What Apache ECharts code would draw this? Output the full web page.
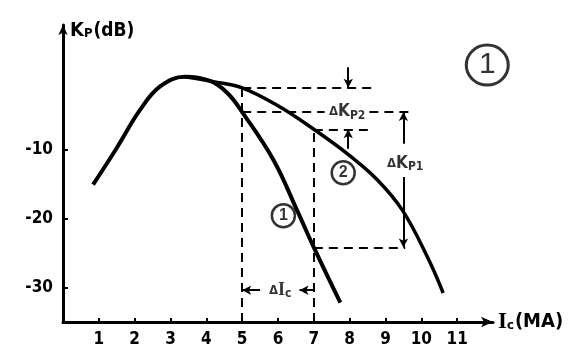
<!DOCTYPE html>
<html><head><meta charset="utf-8">
<script src="https://cdn.jsdelivr.net/npm/echarts@6/dist/echarts.min.js"></script>
<style>html,body{margin:0;padding:0;background:#fff}#c{width:587px;height:362px}</style>
</head><body><div id="c"></div>
<script>
// ---- data ----
const xTickValues = [1, 2, 3, 4, 5, 6, 7, 8, 9, 10, 11];
const yTickValues = [-10, -20, -30];

const curve1X = [0.84, 1.5, 2.15, 2.71, 3.4, 4.1, 4.58, 5, 5.87, 6.53, 7, 7.74];
const curve1Y = [-15.1, -9.8, -4.3, -0.9, 0.5, -0.1, -1.8, -4.6, -11.5, -18.8, -24.2, -32.2];

const curve2X = [3.4, 4.2, 5, 6, 7, 8, 8.77, 9.47, 10.17, 10.61];
const curve2Y = [0.5, -0.2, -1.1, -3.7, -7.1, -10.9, -14.4, -18.8, -25.6, -30.8];

const icLow = 5, icHigh = 7;
const circleTexts = ['1', '2', '1'];
const circleX = [6.15, 7.82, 11.84];
const circleY = [-19.6, -13.4, 2.2];

const noteTexts = ['{d|Δ}{k|K}{s|P2}', '{d|Δ}{k|K}{s|P1}', '{d|Δ}{i|I}{s|c}'];
const noteX = [7.93, 9.55, 6.06];
const noteY = [-4.6, -12.0, -30.4];

// annotation anchor values derived from the curves
const kp1Low = curve1Y[curve1X.indexOf(icLow)];
const kp1High = curve1Y[curve1X.indexOf(icHigh)];
const kp2Low = curve2Y[curve2X.indexOf(icLow)];
const kp2High = curve2Y[curve2X.indexOf(icHigh)];
const yMin = -35, yMax = 8, xMin = 0, xMax = 12;

const FONT = "'DejaVu Sans Condensed','DejaVu Sans',sans-serif";

const pts = (xs, ys) => xs.map((x, i) => [x, ys[i]]);
const seg = (x1, y1, x2, y2, s1, s2) => [
  {coord: [x1, y1], symbol: s1 || 'none'},
  {coord: [x2, y2], symbol: s2 || 'none'}
];

const dashed = [
  seg(icLow, yMin, icLow, kp2Low),
  seg(icHigh, yMin, icHigh, kp2High),
  seg(icLow, kp2Low, 8.66, kp2Low),
  seg(icLow, kp1Low, 7.3, kp1Low),
  seg(8.55, kp1Low, 9.75, kp1Low),
  seg(icHigh, kp2High, 8.52, kp2High),
  seg(icHigh, kp1High, 9.55, kp1High)
];
const solid = [
  seg(7.96, 1.9, 7.96, kp2Low, 'none', 'arrow'),
  seg(7.96, -9.9, 7.96, kp2High, 'none', 'arrow'),
  seg(9.5, -9.2, 9.5, kp1Low, 'none', 'arrow'),
  seg(9.5, -14.0, 9.5, kp1High, 'none', 'arrow'),
  seg(5.5, -30.4, icLow, -30.4, 'none', 'arrow'),
  seg(icHigh, -30.4, 6.6, -30.4, 'none', 'arrow')
];

const rich = {
  d: {fontSize: 13, fontWeight: 'bold', fontFamily: FONT, color: '#000'},
  k: {fontSize: 17, fontWeight: 'bold', fontFamily: FONT, color: '#000'},
  i: {fontSize: 18, fontWeight: 'bold', fontFamily: "'Liberation Serif',serif", color: '#000'},
  s: {fontSize: 12, fontWeight: 'bold', fontFamily: FONT, color: '#000', padding: [7, 0, 0, 0]}
};

const chart = echarts.init(document.getElementById('c'), null, {renderer: 'canvas'});
chart.setOption({
  animation: false,
  backgroundColor: '#fff',
  grid: {left: 63, right: 94, top: 25, bottom: 40},
  xAxis: {
    type: 'value', min: xMin, max: xMax,
    splitLine: {show: false},
    axisLine: {show: true, onZero: false, lineStyle: {color: '#000', width: 3}, symbol: ['none', 'arrow'], symbolSize: [8, 12]},
    axisTick: {show: true, inside: true, length: 4, customValues: xTickValues, lineStyle: {color: '#000', width: 2}},
    axisLabel: {customValues: xTickValues, margin: 9, color: '#000', fontSize: 17, fontWeight: 'bold', fontFamily: FONT},
    name: '{i|I}{s|c}{t|(MA)}', nameLocation: 'end', nameGap: 5,
    nameTextStyle: {rich: Object.assign({}, rich, {
      i: {fontSize: 23, fontWeight: 'bold', fontFamily: "'Liberation Serif',serif", color: '#000'},
      s: {fontSize: 13, fontWeight: 'bold', fontFamily: FONT, color: '#000', padding: [8, 1, 0, 0]},
      t: {fontSize: 20, fontWeight: 'bold', fontFamily: FONT, color: '#000'}})}
  },
  yAxis: {
    type: 'value', min: yMin, max: yMax,
    splitLine: {show: false},
    axisLine: {show: true, onZero: false, lineStyle: {color: '#000', width: 3}, symbol: ['none', 'arrow'], symbolSize: [7, 10]},
    axisTick: {show: true, inside: true, length: 5, customValues: yTickValues, lineStyle: {color: '#000', width: 2}},
    axisLabel: {customValues: yTickValues, margin: 10, color: '#000', fontSize: 17, fontWeight: 'bold', fontFamily: FONT},
    name: '{k|K}{s|P}{t|(dB)}', nameLocation: 'end', nameGap: -6,
    nameTextStyle: {align: 'left', verticalAlign: 'middle', padding: [0, 0, 0, 7],
      rich: Object.assign({}, rich, {
        k: {fontSize: 20, fontWeight: 'bold', fontFamily: FONT, color: '#000'},
        s: {fontSize: 13, fontWeight: 'bold', fontFamily: FONT, color: '#000', padding: [6, 1, 0, 0]},
        t: {fontSize: 19, fontWeight: 'bold', fontFamily: FONT, color: '#000'}})}
  },
  series: [
    {type: 'line', data: pts(curve1X, curve1Y), smooth: 0.4, showSymbol: false, symbol: 'none',
     lineStyle: {color: '#000', width: 4}, silent: true},
    {type: 'line', data: pts(curve2X, curve2Y), smooth: 0.4, showSymbol: false, symbol: 'none',
     lineStyle: {color: '#000', width: 3.5}, silent: true},
    {type: 'scatter', data: [], silent: true,
     markLine: {silent: true, animation: false, symbolSize: [7, 9], label: {show: false},
       lineStyle: {color: '#000', width: 2, type: [9, 6]}, emphasis: {disabled: true}, data: dashed}},
    {type: 'scatter', data: [], silent: true,
     markLine: {silent: true, animation: false, symbolSize: [7, 9], label: {show: false},
       lineStyle: {color: '#000', width: 2, type: 'solid'}, emphasis: {disabled: true}, data: solid}},
    {type: 'scatter', silent: true,
     data: circleTexts.map((t, i) => ({value: [circleX[i], circleY[i]],
       symbolSize: i === 2 ? [42, 40] : 23,
       itemStyle: {color: '#fff', borderColor: '#000', borderWidth: i === 2 ? 3 : 2.5},
       label: {show: true, position: 'inside', formatter: t, color: '#000',
         fontSize: i === 2 ? 30 : 16, fontWeight: i === 2 ? 'normal' : 'bold', fontFamily: "'Liberation Sans',sans-serif"}}))},
    {type: 'scatter', silent: true, symbolSize: 0,
     data: noteTexts.map((t, i) => ({value: [noteX[i], noteY[i]],
       label: {show: true, position: 'inside', formatter: t, backgroundColor: '#fff', padding: [0, 1], rich: rich}}))}
  ]
});
</script></body></html>
